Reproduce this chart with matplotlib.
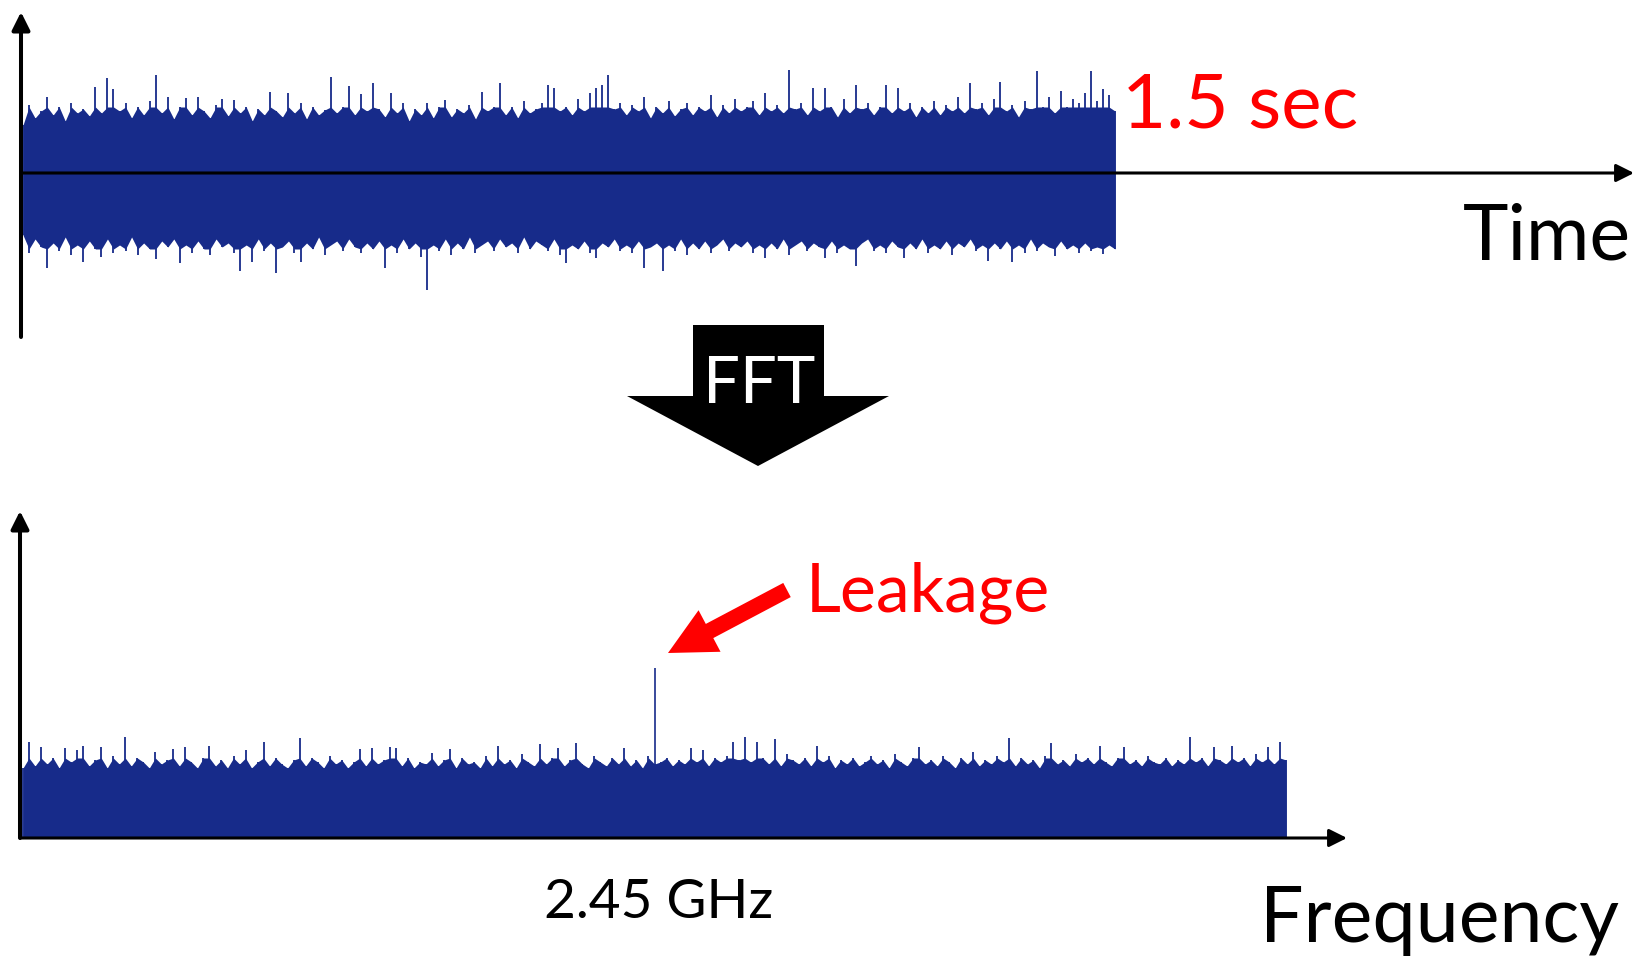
import numpy as np
import matplotlib.pyplot as plt
import matplotlib.transforms as mtransforms
from matplotlib.patches import Polygon, FancyArrow

plt.rcParams['font.family'] = ['Lato', 'DejaVu Sans']

W, H = 1643, 959
BLUE = '#172b8a'
RED = '#ff0000'

# time trace, 1.5 s of noise: peak heights above / below zero (a.u.)
time_upper = [48, 68, 55, 62, 76, 58, 66, 52, 70, 60,
              64, 57, 86, 60, 95, 84, 62, 70, 55, 66,
              58, 72, 98, 60, 76, 54, 66, 75, 58, 76,
              62, 55, 68, 74, 57, 73, 60, 66, 52, 64,
              58, 81, 62, 56, 80, 60, 70, 54, 66, 58,
              63, 96, 60, 66, 87, 58, 79, 62, 90, 64,
              56, 80, 60, 70, 52, 64, 58, 70, 55, 66,
              73, 56, 64, 60, 68, 54, 81, 62, 66, 90,
              58, 66, 55, 72, 60, 64, 70, 88, 85, 62,
              66, 58, 74, 62, 80, 85, 88, 98, 64, 70,
              58, 68, 62, 76, 55, 66, 60, 72, 57, 64,
              70, 58, 66, 62, 78, 56, 68, 60, 74, 62,
              66, 72, 58, 80, 62, 68, 60, 103, 64, 70,
              58, 85, 62, 85, 66, 56, 74, 60, 88, 64,
              70, 58, 66, 88, 60, 85, 62, 70, 56, 66,
              60, 72, 58, 68, 62, 76, 60, 90, 64, 70,
              58, 74, 91, 62, 68, 56, 72, 64, 102, 66,
              76, 60, 82, 66, 74, 70, 80, 102, 72, 84,
              78, 62]
time_lower = [62, 80, 66, 74, 95, 70, 78, 64, 82, 72,
              89, 68, 76, 84, 66, 80, 72, 78, 64, 82,
              70, 76, 86, 68, 74, 66, 90, 72, 80, 68,
              76, 82, 66, 74, 70, 80, 98, 72, 89, 66,
              78, 70, 100, 74, 68, 80, 89, 70, 76, 64,
              82, 72, 68, 78, 66, 74, 80, 70, 76, 68,
              95, 72, 80, 66, 76, 70, 84, 117, 72, 78,
              66, 82, 70, 76, 64, 80, 72, 68, 78, 66,
              74, 70, 80, 64, 76, 68, 72, 78, 66, 82,
              90, 72, 76, 68, 80, 85, 70, 74, 66, 78,
              72, 80, 68, 95, 74, 70, 98, 72, 78, 66,
              82, 70, 76, 68, 80, 72, 66, 78, 70, 74,
              68, 80, 72, 85, 70, 76, 66, 82, 72, 68,
              78, 70, 74, 85, 68, 80, 72, 76, 93, 70,
              66, 78, 72, 80, 68, 74, 85, 70, 76, 66,
              80, 72, 76, 68, 82, 70, 74, 66, 78, 72,
              88, 70, 76, 68, 89, 72, 80, 66, 78, 70,
              74, 83, 68, 76, 72, 80, 70, 78, 74, 81,
              72, 76]
t_end = 1.5

# spectrum magnitude (a.u.) from 2.40 to 2.50 GHz, plus the leakage line
spectrum = [70, 96, 72, 91, 74, 80, 70, 90, 76, 88,
            92, 72, 78, 91, 70, 82, 74, 101, 72, 80,
            76, 70, 86, 74, 78, 89, 72, 91, 76, 70,
            80, 92, 72, 78, 70, 82, 74, 88, 70, 76,
            96, 72, 80, 74, 70, 78, 100, 72, 80, 76,
            70, 82, 74, 78, 70, 76, 89, 72, 90, 74,
            78, 91, 90, 72, 80, 70, 76, 74, 85, 72,
            78, 89, 70, 80, 74, 76, 70, 82, 72, 92,
            74, 78, 70, 84, 76, 72, 94, 74, 80, 90,
            72, 78, 95, 74, 70, 82, 76, 72, 80, 74,
            90, 72, 78, 70, 82, 74, 76, 80, 72, 78,
            74, 90, 76, 88, 72, 80, 76, 82, 96, 78,
            101, 76, 96, 80, 74, 99, 72, 84, 78, 74,
            80, 72, 92, 76, 82, 70, 78, 74, 80, 72,
            76, 82, 74, 78, 70, 84, 76, 72, 80, 91,
            74, 78, 72, 82, 76, 70, 80, 74, 86, 72,
            78, 74, 82, 76, 100, 72, 80, 74, 78, 70,
            82, 95, 74, 78, 72, 84, 76, 80, 74, 92,
            76, 72, 80, 91, 74, 78, 72, 82, 76, 74,
            80, 72, 78, 74, 101, 76, 80, 72, 91, 78,
            74, 92, 76, 80, 72, 84, 76, 91, 74, 96, 78]
f_lo, f_hi = 2.40, 2.50
leak_freq = 2.45
leak_level = 170

fig = plt.figure(figsize=(W / 100, H / 100), dpi=100)
inch = fig.dpi_scale_trans


def box(x0, y0, x1, y1):
    # pixel box (top-left origin) -> figure fraction rect
    return [x0 / W, 1 - y1 / H, (x1 - x0) / W, (y1 - y0) / H]


def px(x, y):
    # pixel (top-left origin) -> inches for dpi_scale_trans
    return x / 100, (H - y) / 100


def axis_arrows(ax, y0, lw_h, lw_v):
    style = '-|>,head_length=0.6,head_width=0.3'
    ax.annotate('', xy=(1, y0), xycoords=('axes fraction', 'data'),
                xytext=(0, y0), textcoords=('axes fraction', 'data'),
                arrowprops=dict(arrowstyle=style, mutation_scale=18, lw=lw_h,
                                color='k', shrinkA=0, shrinkB=0), zorder=5)
    ax.annotate('', xy=(0, 1), xycoords='axes fraction',
                xytext=(0, 0), textcoords='axes fraction',
                arrowprops=dict(arrowstyle=style, mutation_scale=18, lw=lw_v,
                                color='k', shrinkA=0, shrinkB=0), zorder=5)


# ---- time domain ----
ax_t = fig.add_axes(box(21, 12, 1634, 337))
s = t_end / 1092
ax_t.set_xlim(-2 * s, 1611 * s)
ax_t.set_ylim(-164, 161)
ax_t.axis('off')

up = np.array(time_upper)
lo = np.array(time_lower)
t_up = np.linspace(0, t_end, len(up))
t_lo = np.linspace(0, t_end, len(lo))
# dense body with a jagged edge, thin spikes above it
ax_t.fill_between(t_up, 0, np.minimum(up, 66), color=BLUE, lw=0)
ax_t.fill_between(t_lo, -np.minimum(lo, 76), 0, color=BLUE, lw=0)
ax_t.vlines(t_up, 0, up, color=BLUE, lw=1.3)
ax_t.vlines(t_lo, -lo, 0, color=BLUE, lw=1.3)
axis_arrows(ax_t, 0, 2.2, 2.9)

# ---- frequency domain ----
ax_f = fig.add_axes(box(20, 511, 1347, 838))
g = (f_hi - f_lo) / 1263
ax_f.set_xlim(f_lo - 3 * g, f_lo + 1324 * g)
ax_f.set_ylim(0, 327)
ax_f.axis('off')

spec = np.array(spectrum)
f = np.linspace(f_lo, f_hi, len(spec))
ax_f.fill_between(f, 0, np.minimum(spec, 80), color=BLUE, lw=0)
ax_f.vlines(f, 0, spec, color=BLUE, lw=1.3)
ax_f.vlines([leak_freq], 0, [leak_level], color=BLUE, lw=1.2)
axis_arrows(ax_f, 0, 2.2, 2.9)

lbl = mtransforms.offset_copy(
    mtransforms.blended_transform_factory(ax_f.transData, inch),
    fig=fig, x=4, y=0, units='dots')
ax_f.text(leak_freq, (H - 918) / 100, '2.45 GHz', transform=lbl,
          ha='center', va='baseline', fontsize=39.5, color='k')

# ---- FFT block arrow ----
fft_pts = [(693, 325), (824, 325), (824, 396), (889, 396),
           (758, 466), (627, 396), (693, 396)]
fig.add_artist(Polygon([px(x, y) for x, y in fft_pts], closed=True,
                       transform=inch, facecolor='k', edgecolor='none'))
fig.text(*px(759, 403), 'FFT', transform=inch, ha='center', va='baseline',
         fontsize=47, color='white')

# ---- red leakage pointer ----
tx, ty = px(787, 590)
hx, hy = px(668, 653)
fig.add_artist(FancyArrow(tx, ty, hx - tx, hy - ty, width=0.16,
                          head_width=0.47, head_length=0.47,
                          length_includes_head=True, transform=inch,
                          facecolor=RED, edgecolor='none'))

# ---- labels ----
fig.text(*px(1122, 128), '1.5 sec', transform=inch, va='baseline',
         fontsize=55, color=RED)
fig.text(*px(1463, 260), 'Time', transform=inch, va='baseline',
         fontsize=55.5, color='k')
fig.text(*px(806, 612), 'Leakage', transform=inch, va='baseline',
         fontsize=49, color=RED)
fig.text(*px(1260, 942), 'Frequency', transform=inch, va='baseline',
         fontsize=55.5, color='k')

fig.savefig('out.png', dpi=100)
